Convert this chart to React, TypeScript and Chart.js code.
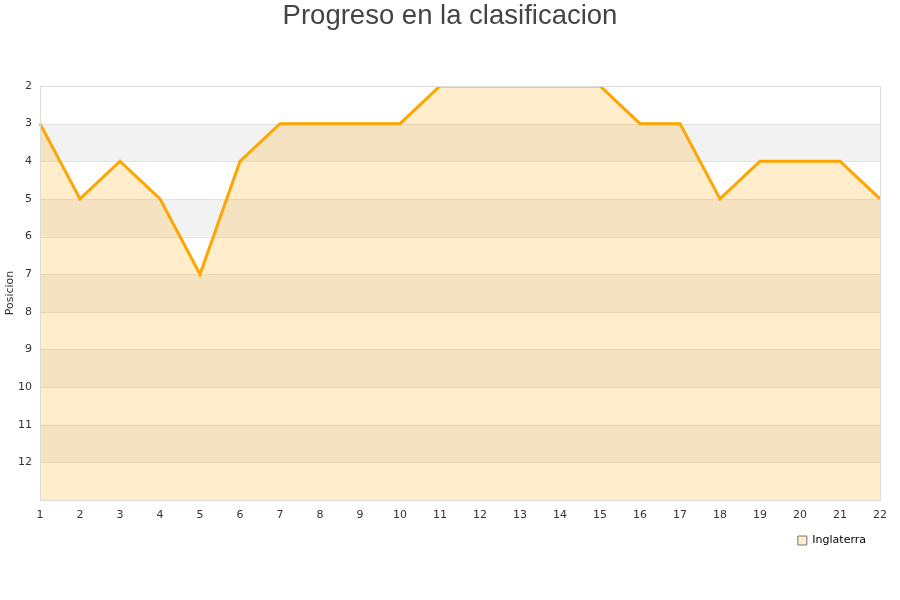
import React, { useEffect, useRef } from "react";
import { Chart, registerables } from "chart.js";

Chart.register(...registerables);

const jornadas = ["1", "2", "3", "4", "5", "6", "7", "8", "9", "10", "11", "12", "13", "14", "15", "16", "17", "18", "19", "20", "21", "22"];
const posiciones = [3, 5, 4, 5, 7, 4, 3, 3, 3, 3, 2, 2, 2, 2, 2, 3, 3, 5, 4, 4, 4, 5];
const equipo = "Inglaterra";
const titulo = "Progreso en la clasificacion";
const ejeY = "Posicion";
const posMin = 2;
const posMax = 13;

// Alternating grey bands behind the plot, plus a frame around the chart area
const bandsPlugin = {
  id: "bands",
  afterLayout(chart: any) {
    // keep the legend inside the plot's right margin
    if (chart.legend) chart.legend.right = chart.chartArea.right - 4;
  },
  beforeDatasetsDraw(chart: any) {
    const { ctx, chartArea, scales } = chart;
    const y = scales.y;
    ctx.save();
    ctx.fillStyle = "#f2f2f2";
    for (let v = posMin + 1; v < posMax; v += 2) {
      const top = y.getPixelForValue(v);
      const bottom = y.getPixelForValue(Math.min(v + 1, posMax));
      ctx.fillRect(chartArea.left, top, chartArea.right - chartArea.left, bottom - top);
    }
    ctx.strokeStyle = "#e2e2e2";
    ctx.lineWidth = 1;
    for (let v = posMin; v <= posMax; v++) {
      const py = Math.round(y.getPixelForValue(v)) + 0.5;
      ctx.beginPath();
      ctx.moveTo(chartArea.left, py);
      ctx.lineTo(chartArea.right, py);
      ctx.stroke();
    }
    ctx.restore();
  },
  afterDraw(chart: any) {
    const { ctx, chartArea } = chart;
    ctx.save();
    ctx.strokeStyle = "#dcdcdc";
    ctx.lineWidth = 1;
    ctx.strokeRect(
      Math.round(chartArea.left) + 0.5,
      Math.round(chartArea.top) + 0.5,
      Math.round(chartArea.right - chartArea.left),
      Math.round(chartArea.bottom - chartArea.top)
    );
    ctx.restore();
  },
};

export default function App() {
  const canvasRef = useRef<HTMLCanvasElement | null>(null);

  useEffect(() => {
    document.body.style.margin = "0";
    const canvas = canvasRef.current;
    if (!canvas) return;
    const chart = new Chart(canvas, {
      type: "line",
      data: {
        labels: jornadas,
        datasets: [
          {
            label: equipo,
            data: posiciones,
            borderColor: "#ffa500",
            backgroundColor: "rgba(255,165,0,0.2)",
            borderWidth: 3,
            pointRadius: 0,
            pointHoverRadius: 0,
            tension: 0,
            fill: "start",
          },
        ],
      },
      options: {
        animation: false,
        responsive: false,
        maintainAspectRatio: false,
        layout: { padding: { left: 0, right: 0, top: 0, bottom: 44 } },
        plugins: {
          title: {
            display: true,
            text: titulo,
            color: "#444444",
            font: { family: "'Liberation Sans', Arial, sans-serif", size: 27.5, weight: "normal" },
            padding: { top: 0, bottom: 53 },
          },
          legend: {
            position: "bottom",
            align: "end",
            labels: {
              color: "#111111",
              font: { family: "'DejaVu Sans', sans-serif", size: 11 },
              boxWidth: 9,
              boxHeight: 9,
              padding: 10,
              generateLabels: (c: any) =>
                c.data.datasets.map((d: any, i: number) => ({
                  text: d.label,
                  fillStyle: "#ffedcc",
                  strokeStyle: "#777777",
                  lineWidth: 1,
                  datasetIndex: i,
                  hidden: false,
                })),
            },
          },
          tooltip: { enabled: false },
        },
        scales: {
          x: {
            offset: false,
            grid: { display: false },
            border: { display: false },
            afterFit: (s: any) => {
              s.height = 25;
              s.paddingRight = 20;
            },
            ticks: {
              color: "#333333",
              font: { family: "'DejaVu Sans', sans-serif", size: 11 },
              maxRotation: 0,
              autoSkip: false,
              padding: 1,
            },
          },
          y: {
            reverse: true,
            min: posMin,
            max: posMax,
            grid: { display: false },
            border: { display: false },
            afterFit: (s: any) => {
              s.width = 40;
            },
            ticks: {
              stepSize: 1,
              color: "#333333",
              font: { family: "'DejaVu Sans', sans-serif", size: 11 },
              padding: 0,
              callback: (v: any) => (v === posMax ? "" : String(v)),
            },
            title: {
              display: true,
              text: ejeY,
              color: "#333333",
              font: { family: "'DejaVu Sans', sans-serif", size: 11 },
              padding: { top: 4, bottom: 0 },
            },
          },
        },
      },
      plugins: [bandsPlugin],
    });
    return () => chart.destroy();
  }, []);

  return (
    <div style={{ width: 900, height: 600, background: "#ffffff" }}>
      <canvas ref={canvasRef} width={900} height={600} style={{ display: "block" }} />
    </div>
  );
}
